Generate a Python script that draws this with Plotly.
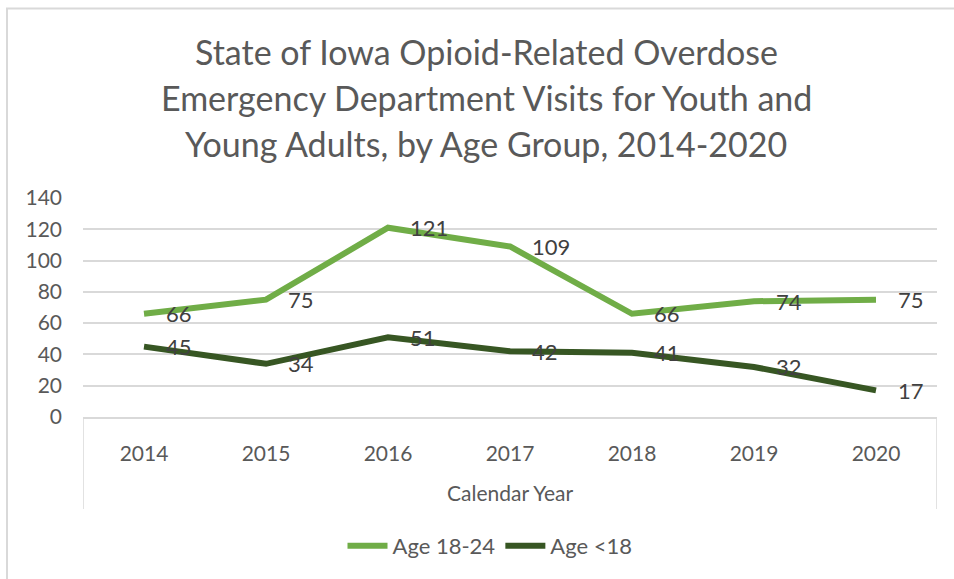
import plotly.graph_objects as go

# Opioid-related overdose ED visits in Iowa by age group
years = ["2014", "2015", "2016", "2017", "2018", "2019", "2020"]
age_18_24 = [66, 75, 121, 109, 66, 74, 75]
age_under_18 = [45, 34, 51, 42, 41, 32, 17]
y_ticks = [0, 20, 40, 60, 80, 100, 120, 140]

title_lines = [
    "State of Iowa Opioid-Related Overdose",
    "Emergency Department Visits for Youth and",
    "Young Adults, by Age Group, 2014-2020",
]

FONT = "Lato"
GRAY = "#595959"
LABEL = "#404040"
GRID = "#D9D9D9"
LIGHT = "#70AD47"
DARK = "#375623"

W, H = 954, 579
L, R, T, B = 83, 17, 198, 162
PW, PH = W - L - R, H - T - B


def px_x(px):
    return (px - L) / PW


def px_y(py):
    return (H - B - py) / PH


x_idx = list(range(len(years)))

fig = go.Figure()
fig.add_trace(go.Scatter(
    x=x_idx, y=age_18_24, mode="lines", name="Age 18-24",
    line=dict(color=LIGHT, width=6), hoverinfo="skip",
))
fig.add_trace(go.Scatter(
    x=x_idx, y=age_under_18, mode="lines", name="Age <18",
    line=dict(color=DARK, width=6), hoverinfo="skip",
))

annotations = []
# value labels to the right of each point
for series in (age_18_24, age_under_18):
    for i, v in zip(x_idx, series):
        annotations.append(dict(
            x=i, y=v, xref="x", yref="y", text=str(v), showarrow=False,
            xanchor="left", yanchor="middle", xshift=20,
            font=dict(family=FONT, size=22, color=LABEL),
        ))

# title, one annotation per line
for line, py in zip(title_lines, [51, 97, 143]):
    annotations.append(dict(
        x=px_x(486), y=px_y(py), xref="paper", yref="paper", text=line,
        showarrow=False, xanchor="center", yanchor="middle",
        font=dict(family=FONT, size=34, color=GRAY),
    ))

annotations.append(dict(
    x=px_x(510), y=px_y(492), xref="paper", yref="paper", text="Calendar Year",
    showarrow=False, xanchor="center", yanchor="middle",
    font=dict(family=FONT, size=21, color=GRAY),
))

shapes = [
    # category axis end brackets
    dict(type="line", xref="x", yref="paper", x0=-0.5, x1=-0.5,
         y0=0, y1=px_y(509), line=dict(color=GRID, width=1.5)),
    dict(type="line", xref="x", yref="paper", x0=6.5, x1=6.5,
         y0=0, y1=px_y(509), line=dict(color=GRID, width=1.5)),
    # chart area border (left and top)
    dict(type="line", xref="paper", yref="paper", x0=px_x(7), x1=px_x(7),
         y0=px_y(8), y1=px_y(590), line=dict(color=GRID, width=2)),
    dict(type="line", xref="paper", yref="paper", x0=px_x(6), x1=px_x(960),
         y0=px_y(8.5), y1=px_y(8.5), line=dict(color=GRID, width=2)),
]

fig.update_layout(
    width=W, height=H,
    margin=dict(l=L, r=R, t=T, b=B),
    paper_bgcolor="white", plot_bgcolor="white",
    showlegend=True,
    legend=dict(
        orientation="h", x=px_x(490), y=px_y(546), xanchor="center",
        yanchor="middle", font=dict(family=FONT, size=22, color=GRAY),
        itemwidth=40, tracegroupgap=0,
    ),
    annotations=annotations,
    shapes=shapes,
    xaxis=dict(
        range=[-0.5, 6.5], tickmode="array", tickvals=x_idx, ticktext=years,
        showgrid=False, zeroline=False, showline=True, linecolor=GRID,
        linewidth=1.5, ticks="", ticklabelstandoff=17,
        tickfont=dict(family=FONT, size=21, color=GRAY), fixedrange=True,
    ),
    yaxis=dict(
        range=[0, 140], tickmode="array", tickvals=y_ticks,
        showgrid=True, gridcolor=GRID, gridwidth=1.5, zeroline=False,
        showline=False, ticks="", ticklabelstandoff=20,
        tickfont=dict(family=FONT, size=21, color=GRAY), fixedrange=True,
    ),
)

fig.write_html("out.html")
